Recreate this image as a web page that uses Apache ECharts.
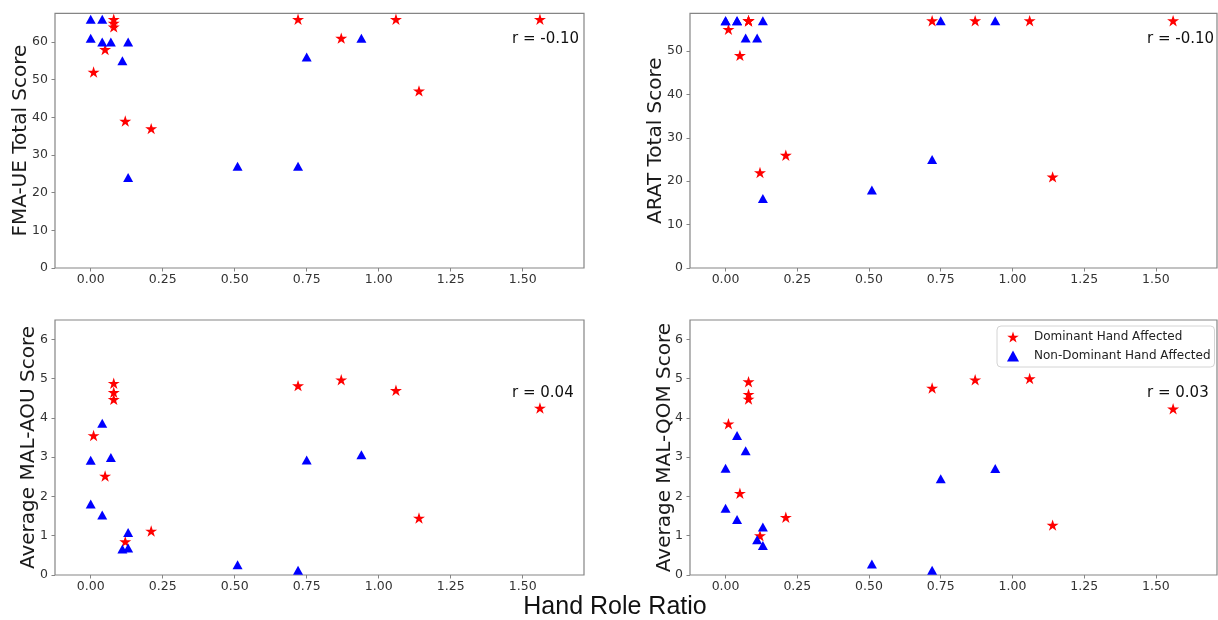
<!DOCTYPE html>
<html><head><meta charset="utf-8">
<script src="https://cdn.jsdelivr.net/npm/echarts@6/dist/echarts.min.js"></script>
<style>html,body{margin:0;padding:0;background:#fff}#c{width:1218px;height:620px}</style>
</head><body><div id="c"></div>
<script>
// ---- data ----
const seriesNames = ['Dominant Hand Affected', 'Non-Dominant Hand Affected'];
const starX = [0.01, 0.05, 0.08, 0.08, 0.08, 0.12, 0.21, 0.72, 0.87, 1.06, 1.14, 1.56];
const triX  = [0, 0, 0.04, 0.04, 0.07, 0.11, 0.13, 0.13, 0.51, 0.72, 0.75, 0.94];

const fmaStar  = [52, 58, 66, 65, 64, 39, 37, 66, 61, 66, 47, 66];
const fmaTri   = [66, 61, 66, 60, 60, 55, 60, 24, 27, 27, 56, 61];
const aratStar = [55, 49, 57, 57, 57, 22, 26, 57, 57, 57, 21, 57];
const aratTri  = [57, 57, 57, 57, 53, 53, 57, 16, 18, 25, 57, 57];
const aouStar  = [3.55, 2.52, 4.88, 4.65, 4.47, 0.85, 1.12, 4.82, 4.97, 4.70, 1.45, 4.25];
const aouTri   = [2.92, 1.81, 3.86, 1.53, 2.99, 0.66, 0.69, 1.08, 0.26, 0.12, 2.93, 3.06];
const qomStar  = [3.85, 2.08, 4.92, 4.60, 4.48, 1.00, 1.47, 4.76, 4.97, 5.00, 1.27, 4.23];
const qomTri   = [2.72, 1.70, 3.55, 1.41, 3.16, 0.90, 0.75, 1.22, 0.28, 0.12, 2.45, 2.71];

const xTicks    = [0, 0.25, 0.5, 0.75, 1.0, 1.25, 1.5];
const fmaTicks  = [0, 10, 20, 30, 40, 50, 60];
const aratTicks = [0, 10, 20, 30, 40, 50];
const malTicks  = [0, 1, 2, 3, 4, 5, 6];

const panelTitles = ['FMA-UE Total Score', 'ARAT Total Score', 'Average MAL-AOU Score', 'Average MAL-QOM Score'];
const rLabels = ['r = -0.10', 'r = -0.10', 'r = 0.04', 'r = 0.03'];
const xTitle = 'Hand Role Ratio';

// ---- layout / style ----
const panels = [
  {grid: {left: 55,  top: 13.3, width: 529, height: 254.7}, ymax: 67.6, ticks: fmaTicks,  gap: 24, stars: fmaStar,  tris: fmaTri,  r: [512, 39]},
  {grid: {left: 690, top: 13.3, width: 527, height: 254.7}, ymax: 58.7, ticks: aratTicks, gap: 24, stars: aratStar, tris: aratTri, r: [1147, 39]},
  {grid: {left: 55,  top: 320,  width: 529, height: 255},   ymax: 6.49, ticks: malTicks,  gap: 16, stars: aouStar,  tris: aouTri,  r: [512, 392.7]},
  {grid: {left: 690, top: 320,  width: 527, height: 255},   ymax: 6.49, ticks: malTicks,  gap: 15, stars: qomStar,  tris: qomTri,  r: [1147, 392.7]}
];
const starPath = 'path://M50 0 L61.23 34.55 L97.55 34.55 L68.17 55.9 L79.39 90.45 L50 69.1 L20.61 90.45 L31.83 55.9 L2.45 34.55 L38.77 34.55 Z';
const tickFont = {fontFamily: 'DejaVu Sans', fontSize: 12.5, color: '#333'};
const frameColor = '#858585';

const grids = [], xAxes = [], yAxes = [], series = [], graphics = [];
panels.forEach((p, i) => {
  grids.push(Object.assign({show: true, borderColor: frameColor, borderWidth: 1.2, backgroundColor: 'transparent', containLabel: false}, p.grid));
  xAxes.push({
    type: 'value', gridIndex: i, min: -0.124, max: 1.713,
    splitLine: {show: false}, axisLine: {show: false, onZero: false},
    axisTick: {show: true, length: 3.5, lineStyle: {color: frameColor}, customValues: xTicks},
    axisLabel: Object.assign({margin: 5, customValues: xTicks, formatter: v => v.toFixed(2)}, tickFont)
  });
  yAxes.push({
    type: 'value', gridIndex: i, min: 0, max: p.ymax,
    splitLine: {show: false}, axisLine: {show: false, onZero: false},
    axisTick: {show: true, length: 3.5, lineStyle: {color: frameColor}, customValues: p.ticks},
    axisLabel: Object.assign({margin: 7, customValues: p.ticks, formatter: v => String(v)}, tickFont),
    name: panelTitles[i], nameLocation: 'middle', nameRotate: 90, nameGap: p.gap, nameMoveOverlap: false,
    nameTextStyle: {fontFamily: 'DejaVu Sans', fontSize: 20, color: '#1a1a1a'}
  });
  series.push({
    type: 'scatter', name: seriesNames[0], xAxisIndex: i, yAxisIndex: i,
    data: starX.map((x, k) => [x, p.stars[k]]),
    symbol: starPath, symbolSize: 12, symbolKeepAspect: true,
    itemStyle: {color: '#ff0000', opacity: 1}, z: 2
  });
  series.push({
    type: 'scatter', name: seriesNames[1], xAxisIndex: i, yAxisIndex: i,
    data: triX.map((x, k) => [x, p.tris[k]]),
    symbol: 'triangle', symbolSize: [10, 9],
    itemStyle: {color: '#0000ff', opacity: 1}, z: 3
  });
  graphics.push({
    type: 'text', x: p.r[0], y: p.r[1],
    style: {text: rLabels[i], fontFamily: 'DejaVu Sans', fontSize: 15, fill: '#111', align: 'left', verticalAlign: 'middle'}
  });
});
graphics.push({
  type: 'text', x: 615, y: 607.5,
  style: {text: xTitle, fontFamily: 'Liberation Sans', fontSize: 25, fill: '#111', align: 'center', verticalAlign: 'middle'}
});

const chart = echarts.init(document.getElementById('c'), null, {renderer: 'canvas'});
chart.setOption({
  animation: false,
  backgroundColor: '#fff',
  grid: grids, xAxis: xAxes, yAxis: yAxes, series: series, graphic: graphics,
  legend: {
    data: [{name: seriesNames[0], icon: starPath}, {name: seriesNames[1], icon: 'triangle'}],
    orient: 'vertical', left: 997, top: 326,
    padding: [5, 4, 5, 10], itemGap: 7, itemWidth: 12, itemHeight: 11,
    backgroundColor: '#fff', borderColor: '#d4d4d4', borderWidth: 1, borderRadius: 4,
    textStyle: {fontFamily: 'DejaVu Sans', fontSize: 12, color: '#222', padding: [0, 0, 0, 10]}
  }
});
</script></body></html>
